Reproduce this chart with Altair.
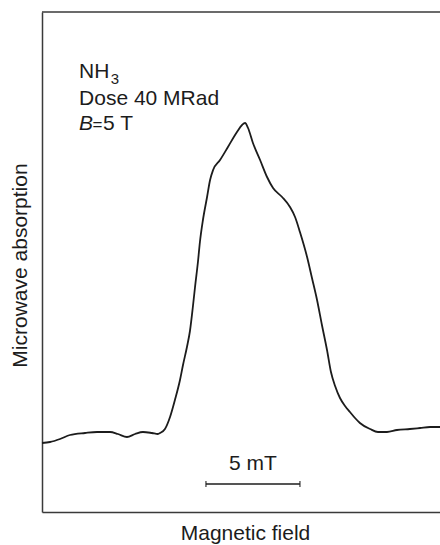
import altair as alt
import pandas as pd

# Absorption trace: magnetic field offset (mT) and microwave absorption (arb. units)
field_mT = [0.00, 0.43, 0.96, 1.49, 2.29, 2.93, 3.62, 4.04, 4.52, 4.95, 5.37, 5.85,
            6.17, 6.28, 6.54, 6.81, 7.07, 7.34, 7.50, 7.71, 7.87, 8.03, 8.14, 8.30,
            8.40, 8.56, 8.78, 8.94, 9.10, 9.47, 9.89, 10.37, 10.64, 10.80, 10.96,
            11.22, 11.60, 11.97, 12.29, 12.77, 13.19, 13.46, 13.72, 14.10, 14.36,
            14.63, 14.89, 15.16, 15.37, 15.59, 15.85, 16.12, 16.38, 16.65, 16.91,
            17.45, 17.87, 18.35, 18.88, 19.57, 20.11, 20.64, 21.17]
absorption = [1.38, 1.40, 1.46, 1.54, 1.58, 1.60, 1.60, 1.56, 1.50, 1.56, 1.60, 1.58,
              1.56, 1.58, 1.66, 1.90, 2.24, 2.64, 2.94, 3.30, 3.62, 4.12, 4.50, 5.02,
              5.40, 5.84, 6.30, 6.64, 6.84, 7.04, 7.30, 7.60, 7.74, 7.78, 7.68,
              7.38, 7.04, 6.70, 6.48, 6.30, 6.10, 5.90, 5.60, 5.10, 4.68,
              4.24, 3.74, 3.24, 2.80, 2.52, 2.28, 2.12, 2.00, 1.88, 1.78,
              1.66, 1.60, 1.60, 1.64, 1.66, 1.68, 1.70, 1.70]

# Axis ranges
x_range = [0.0, 21.17]
y_range = [0.0, 10.0]

# 5 mT scale bar
bar_start = [8.72]
bar_end = [13.72]
bar_level = [0.56]
bar_label = ["5 mT"]
bar_label_level = [0.84]

# Sample annotation lines
note_x = [1.97]
note_lines = ["NH", "Dose 40 MRad"]
note_levels = [8.68, 8.14]
sub_text = ["3"]
sub_x = [3.66]
sub_level = [8.56]
b_text = ["B"]
eq_text = ["="]
eq_x = [2.68]
b_rest = ["5 T"]
b_rest_x = [3.25]
b_level = [7.64]

FONT = "Liberation Sans"
INK = "#1c1c1c"
FRAME = "#3a3a3a"
TEXT_SIZE = 21

xs = alt.Scale(domain=x_range, nice=False, zero=False)
ys = alt.Scale(domain=y_range, nice=False, zero=False)

trace = pd.DataFrame({"field": field_mT, "absorption": absorption})

line = alt.Chart(trace).mark_line(
    interpolate="monotone", color=INK, strokeWidth=1.8
).encode(
    x=alt.X("field:Q", scale=xs, axis=alt.Axis(
        title="Magnetic field", labels=False, ticks=False, grid=False,
        domain=True, domainColor=FRAME, domainWidth=1.5, titlePadding=10.5,
        titleX=203)),
    y=alt.Y("absorption:Q", scale=ys, axis=alt.Axis(
        title="Microwave absorption", labels=False, ticks=False, grid=False,
        domain=True, domainColor=FRAME, domainWidth=1.5, titlePadding=12,
        titleY=253)),
)

top_frame = alt.Chart(pd.DataFrame({"top": [y_range[1]]})).mark_rule(
    color=FRAME, strokeWidth=1.5
).encode(y=alt.Y("top:Q", scale=ys))

bar_df = pd.DataFrame({"start": bar_start, "end": bar_end, "level": bar_level})
bar = alt.Chart(bar_df).mark_rule(color=INK, strokeWidth=1.5).encode(
    x=alt.X("start:Q", scale=xs),
    x2="end:Q",
    y=alt.Y("level:Q", scale=ys),
)

caps_df = pd.DataFrame({"pos": bar_start + bar_end, "level": bar_level * 2})
caps = alt.Chart(caps_df).mark_tick(
    orient="vertical", color=INK, size=6, thickness=1.5
).encode(
    x=alt.X("pos:Q", scale=xs),
    y=alt.Y("level:Q", scale=ys),
)

bar_text_df = pd.DataFrame({
    "mid": [(a + b) / 2 for a, b in zip(bar_start, bar_end)],
    "level": bar_label_level, "label": bar_label})
bar_text = alt.Chart(bar_text_df).mark_text(
    font=FONT, fontSize=TEXT_SIZE, color=INK, align="center",
    baseline="alphabetic"
).encode(
    x=alt.X("mid:Q", scale=xs),
    y=alt.Y("level:Q", scale=ys),
    text="label:N",
)


def label_layer(xv, yv, texts, size=TEXT_SIZE, style="normal"):
    df = pd.DataFrame({"x": xv, "y": yv, "t": texts})
    return alt.Chart(df).mark_text(
        font=FONT, fontSize=size, color=INK, align="left",
        baseline="alphabetic", fontStyle=style
    ).encode(
        x=alt.X("x:Q", scale=xs),
        y=alt.Y("y:Q", scale=ys),
        text="t:N",
    )


notes = label_layer(note_x * len(note_lines), note_levels, note_lines)
subscript = label_layer(sub_x, sub_level, sub_text, size=15)
b_italic = label_layer(note_x, b_level, b_text, style="italic")
b_equals = label_layer(eq_x, b_level, eq_text, size=17)
b_value = label_layer(b_rest_x, b_level, b_rest)

chart = alt.layer(
    line, top_frame, bar, caps, bar_text, notes, subscript,
    b_italic, b_equals, b_value
).properties(
    width=398, height=500,
    autosize=alt.AutoSizeParams(type="none"),
    padding={"left": 42, "top": 12, "right": 0, "bottom": 33},
).configure_view(
    stroke=None
).configure_axis(
    titleFont=FONT, titleFontSize=TEXT_SIZE, titleFontWeight="normal",
    titleColor=INK
)

chart.save("out.html", embed_options={"renderer": "svg", "actions": False})
